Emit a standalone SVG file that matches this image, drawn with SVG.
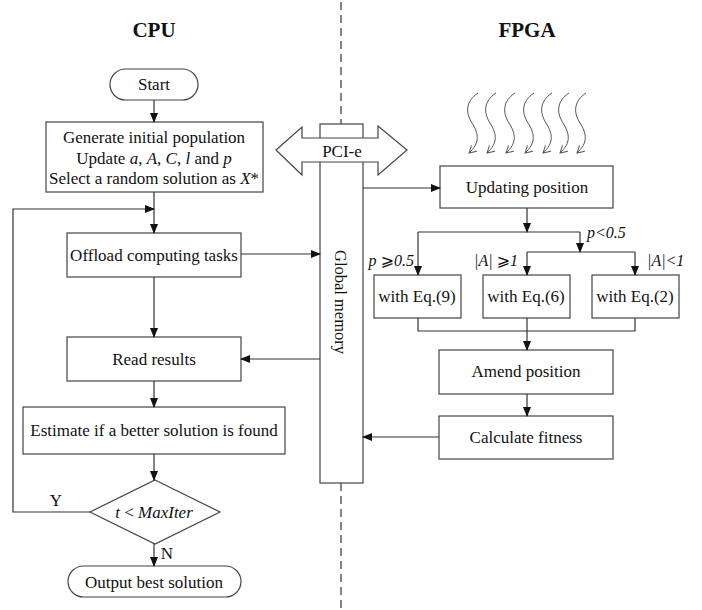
<svg xmlns="http://www.w3.org/2000/svg" width="702" height="610" viewBox="0 0 702 610">
<defs>
<marker id="a" markerWidth="10" markerHeight="8" refX="9" refY="4" orient="auto" markerUnits="userSpaceOnUse"><path d="M0,0 L10,4 L0,8 z" fill="#111"/></marker>
<marker id="w" markerWidth="10" markerHeight="10" refX="8" refY="5" orient="auto" markerUnits="userSpaceOnUse"><path d="M1,1 L8,5 L1,9" fill="none" stroke="#555" stroke-width="1"/></marker>
<style>
text{font-family:"Liberation Serif","DejaVu Serif","DejaVu Sans",serif;fill:#111;}
.t{font-size:17px;text-anchor:middle;}
.h{font-size:21px;font-weight:bold;text-anchor:middle;}
.l{font-size:16px;font-style:italic;}
.box{fill:#fff;stroke:#444;stroke-width:1.2;}
.c{fill:none;stroke:#333;stroke-width:1.2;}
.ca{fill:none;stroke:#333;stroke-width:1.2;marker-end:url(#a);}
.wv{fill:none;stroke:#555;stroke-width:1;marker-end:url(#w);}
i{font-style:italic;}
</style>
</defs>
<rect width="702" height="610" fill="#fff"/>

<text class="h" x="154" y="37">CPU</text>
<text class="h" x="527" y="37">FPGA</text>

<g id="divider">
<path d="M341,2 V124 M341,483 V610" fill="none" stroke="#333" stroke-width="1.2" stroke-dasharray="8,5"/>
</g>

<g id="global-memory">
<rect class="box" x="320" y="124" width="43" height="359"/>
<text class="t" style="font-size:16.5px" transform="translate(341,302) rotate(90)" x="0" y="6">Global memory</text>
</g>

<g id="pcie">
<polygon class="box" points="276,150 302,127 302,138 378,138 378,126 407,150 378,175 378,162 302,162 302,175"/>
<text class="t" x="342" y="157">PCI-e</text>
</g>

<g id="start">
<rect class="box" x="110" y="69" width="88" height="31" rx="15.5"/>
<text class="t" x="154" y="90">Start</text>
</g>

<g id="generate">
<rect class="box" x="46" y="122" width="217" height="70"/>
<text class="t" x="154" y="143">Generate initial population</text>
<text class="t" x="154" y="164">Update <tspan font-style="italic">a</tspan>, <tspan font-style="italic">A</tspan>, <tspan font-style="italic">C</tspan>, <tspan font-style="italic">l</tspan> and <tspan font-style="italic">p</tspan></text>
<text class="t" x="154" y="184">Select a random solution as <tspan font-style="italic">X</tspan>*</text>
</g>

<g id="offload">
<rect class="box" x="67" y="233" width="174" height="44"/>
<text class="t" x="154" y="261">Offload computing tasks</text>
</g>

<g id="read">
<rect class="box" x="67" y="337" width="174" height="44"/>
<text class="t" x="154" y="365">Read results</text>
</g>

<g id="estimate">
<rect class="box" x="23" y="407" width="262" height="47"/>
<text class="t" x="154" y="436">Estimate if a better solution is found</text>
</g>

<g id="decision">
<polygon class="box" points="155,480 220,512 155,544 90,512"/>
<text class="t" x="154" y="518"><tspan font-style="italic">t</tspan> &lt; <tspan font-style="italic">MaxIter</tspan></text>
</g>

<g id="output">
<rect class="box" x="68" y="566" width="173" height="31" rx="15.5"/>
<text class="t" x="154" y="588">Output best solution</text>
</g>

<g id="threads">
<path class="wv" d="M478,93 C466,101 465,112 472,123 S480,143 469,153"/>
<path class="wv" d="M496,93 C484,101 483,112 490,123 S498,143 487,153"/>
<path class="wv" d="M515,93 C503,101 502,112 509,123 S517,143 506,153"/>
<path class="wv" d="M534,93 C522,101 521,112 528,123 S536,143 525,153"/>
<path class="wv" d="M552,93 C540,101 539,112 546,123 S554,143 543,153"/>
<path class="wv" d="M569,93 C557,101 556,112 563,123 S571,143 560,153"/>
<path class="wv" d="M586,93 C574,101 573,112 580,123 S588,143 577,153"/>
</g>

<g id="updating">
<rect class="box" x="440" y="166" width="173" height="42"/>
<text class="t" x="527" y="193">Updating position</text>
</g>

<g id="eq9">
<rect class="box" x="374" y="275" width="87" height="43"/>
<text class="t" x="417" y="302">with Eq.(9)</text>
</g>
<g id="eq6">
<rect class="box" x="483" y="275" width="87" height="43"/>
<text class="t" x="526" y="302">with Eq.(6)</text>
</g>
<g id="eq2">
<rect class="box" x="592" y="275" width="87" height="43"/>
<text class="t" x="635" y="302">with Eq.(2)</text>
</g>

<g id="amend">
<rect class="box" x="439" y="350" width="174" height="44"/>
<text class="t" x="526" y="377">Amend position</text>
</g>

<g id="fitness">
<rect class="box" x="439" y="416" width="174" height="43"/>
<text class="t" x="526" y="443">Calculate fitness</text>
</g>

<g id="connectors">
<path class="ca" d="M154,100 V122"/>
<path class="ca" d="M154,192 V233"/>
<path class="ca" d="M90,512 H13 V209 H154"/>
<path class="ca" d="M154,277 V337"/>
<path class="ca" d="M241,254 H320"/>
<path class="ca" d="M320,359 H241"/>
<path class="ca" d="M154,381 V407"/>
<path class="ca" d="M154,454 V480"/>
<path class="ca" d="M154,544 V566"/>
<path class="ca" d="M363,188 H440"/>
<path class="ca" d="M527,208 V232"/>
<path class="c" d="M418,232 H580"/>
<path class="ca" d="M418,232 V275"/>
<path class="ca" d="M580,232 V252"/>
<path class="c" d="M527,252 H635"/>
<path class="ca" d="M527,252 V275"/>
<path class="ca" d="M635,252 V275"/>
<path class="c" d="M418,318 V331 H635 V318 M527,318 V331"/>
<path class="ca" d="M527,331 V350"/>
<path class="ca" d="M527,394 V416"/>
<path class="ca" d="M439,437 H363"/>
<text class="t" x="56" y="506">Y</text>
<text class="t" x="167" y="559">N</text>
<text class="l" x="414" y="266" text-anchor="end">p ⩾0.5</text>
<text class="l" x="587" y="238">p&lt;0.5</text>
<text class="l" x="474" y="266">|A| ⩾1</text>
<text class="l" x="647" y="266">|A|&lt;1</text>
</g>
</svg>
